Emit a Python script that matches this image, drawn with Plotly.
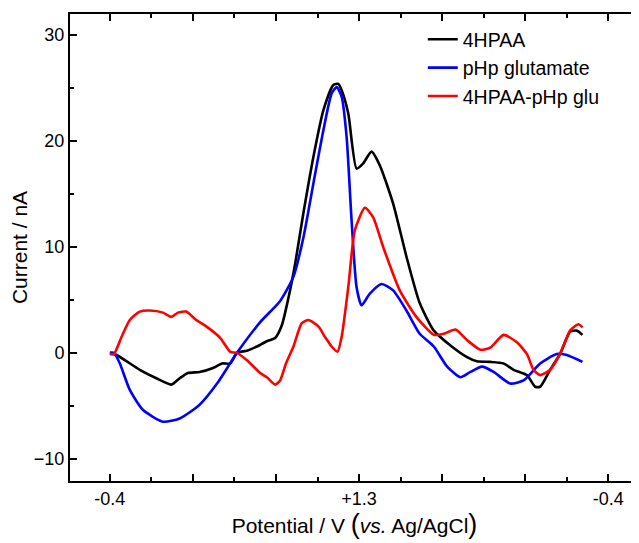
import plotly.graph_objects as go

# sweep position (major tick units: 0 -> -0.4 V, 3 -> +1.3 V, 6 -> -0.4 V)
x_black = [0, 0.08, 0.36, 0.56, 0.74, 0.84, 0.94, 1.08, 1.25, 1.35, 1.45, 1.53, 1.65, 1.77, 1.89, 1.99,
           2.07, 2.15, 2.23, 2.33, 2.45, 2.57, 2.69, 2.75, 2.79, 2.87, 2.97, 3.05, 3.15, 3.25, 3.41, 3.57,
           3.73, 3.90, 4.10, 4.30, 4.42, 4.58, 4.74, 4.86, 5.02, 5.12, 5.18, 5.30, 5.42, 5.54, 5.62, 5.69]
y_black = [0, -0.2, -1.6, -2.4, -3.0, -2.4, -1.9, -1.8, -1.4, -1.0, -1.0, 0, 0.2, 0.6, 1.1, 1.4,
           2.6, 5.2, 8.4, 13.2, 18.5, 22.9, 25.3, 25.4, 24.8, 22.6, 17.4, 17.9, 19.0, 17.7, 14.1, 9.1,
           4.7, 2.1, 0.7, -0.4, -0.8, -0.85, -1.0, -1.6, -2.1, -3.2, -3.2, -1.6, -0.1, 2.0, 2.1, 1.7]

x_blue = [0, 0.05, 0.12, 0.24, 0.40, 0.64, 0.84, 1.08, 1.29, 1.53, 1.81, 2.05, 2.21, 2.33, 2.45, 2.57,
          2.67, 2.73, 2.79, 2.85, 2.91, 2.97, 3.03, 3.13, 3.27, 3.41, 3.57, 3.73, 3.90, 4.06, 4.22, 4.34,
          4.48, 4.62, 4.82, 4.98, 5.18, 5.38, 5.50, 5.69]
y_blue = [0, 0, -1.0, -3.5, -5.4, -6.5, -6.2, -4.9, -2.9, 0, 2.9, 4.9, 7.2, 10.9, 16.0, 21.0,
          24.5, 25.1, 24.2, 20.4, 12.5, 6.2, 4.5, 5.6, 6.5, 5.9, 4.0, 1.8, 0.6, -1.3, -2.3, -1.8,
          -1.3, -1.8, -2.9, -2.6, -1.0, -0.1, -0.2, -0.85]

x_red = [0, 0.05, 0.14, 0.24, 0.36, 0.48, 0.64, 0.74, 0.82, 0.92, 1.04, 1.16, 1.33, 1.45, 1.53, 1.65,
         1.81, 1.89, 1.99, 2.05, 2.12, 2.21, 2.31, 2.39, 2.51, 2.59, 2.67, 2.74, 2.79, 2.87, 2.95, 3.07,
         3.17, 3.29, 3.49, 3.69, 3.90, 4.02, 4.16, 4.30, 4.46, 4.58, 4.74, 4.90, 5.02, 5.10, 5.18, 5.30,
         5.42, 5.54, 5.64, 5.69]
y_red = [-0.1, -0.1, 1.5, 3.1, 3.9, 4.0, 3.8, 3.4, 3.8, 3.9, 3.1, 2.5, 1.4, 0.1, 0, -0.7,
         -1.9, -2.3, -3.0, -2.6, -1.0, 0.6, 2.8, 3.1, 2.5, 1.5, 0.6, 0.1, 1.5, 6.2, 11.6, 13.7,
         12.8, 10.0, 5.9, 3.4, 1.7, 1.8, 2.2, 1.2, 0.3, 0.5, 1.7, 1.0, -0.1, -1.6, -2.1, -1.6,
         -0.1, 2.1, 2.7, 2.4]

tick_vals = [0, 1, 2, 3, 4, 5, 6]
tick_text = ["-0.4", "", "", "+1.3", "", "", "-0.4"]

series = [
    ("4HPAA", x_black, y_black, "#000000"),
    ("pHp glutamate", x_blue, y_blue, "#0000ff"),
    ("4HPAA-pHp glu", x_red, y_red, "#ff0000"),
]

FONT = "Liberation Sans, Arial, sans-serif"

fig = go.Figure()
for name, xs, ys, col in series:
    fig.add_trace(go.Scatter(x=xs, y=ys, name=name, mode="lines",
                             line=dict(color=col, width=2.6, shape="spline", smoothing=0.6)))

# page body adds an 8px offset; size the figure so the plot area lands where the reference has it
fig.update_layout(
    width=631, height=535,
    margin=dict(l=62, r=0, t=6, b=62),
    paper_bgcolor="white", plot_bgcolor="white",
    font=dict(family=FONT, size=18, color="black"),
    showlegend=True,
    legend=dict(x=0.62, y=0.987, xanchor="left", yanchor="top", bgcolor="rgba(0,0,0,0)",
                font=dict(size=19.5, family=FONT), tracegroupgap=0, itemwidth=30),
)
fig.update_xaxes(
    range=[-0.48, 6.37], showgrid=False, zeroline=False, automargin=False,
    showline=True, linecolor="black", linewidth=2, mirror="ticks",
    tickmode="array", tickvals=tick_vals, ticktext=tick_text,
    ticks="inside", ticklen=7, tickwidth=2, tickcolor="black",
    minor=dict(tickmode="array", tickvals=[0.5, 1.5, 2.5, 3.5, 4.5, 5.5], ticks="inside", ticklen=4, tickwidth=2, tickcolor="black"),
    tickfont=dict(size=18, family=FONT),
    title=dict(text="Potential / V <span style='font-size:27px'>(</span><i>vs.</i> Ag/AgCl<span style='font-size:27px'>)</span>",
               font=dict(size=21, family=FONT), standoff=4),
)
fig.update_yaxes(
    range=[-12.1, 32], showgrid=False, zeroline=False, automargin=False,
    showline=True, linecolor="black", linewidth=2, mirror=False,
    tickmode="array", tickvals=[-10, 0, 10, 20, 30],
    ticks="inside", ticklen=7, tickwidth=2, tickcolor="black",
    minor=dict(tickmode="array", tickvals=[-5, 5, 15, 25], ticks="inside", ticklen=4, tickwidth=2, tickcolor="black"),
    tickfont=dict(size=18, family=FONT),
    title=dict(text="Current / nA", font=dict(size=21, family=FONT), standoff=2),
)

fig.write_html("out.html")
